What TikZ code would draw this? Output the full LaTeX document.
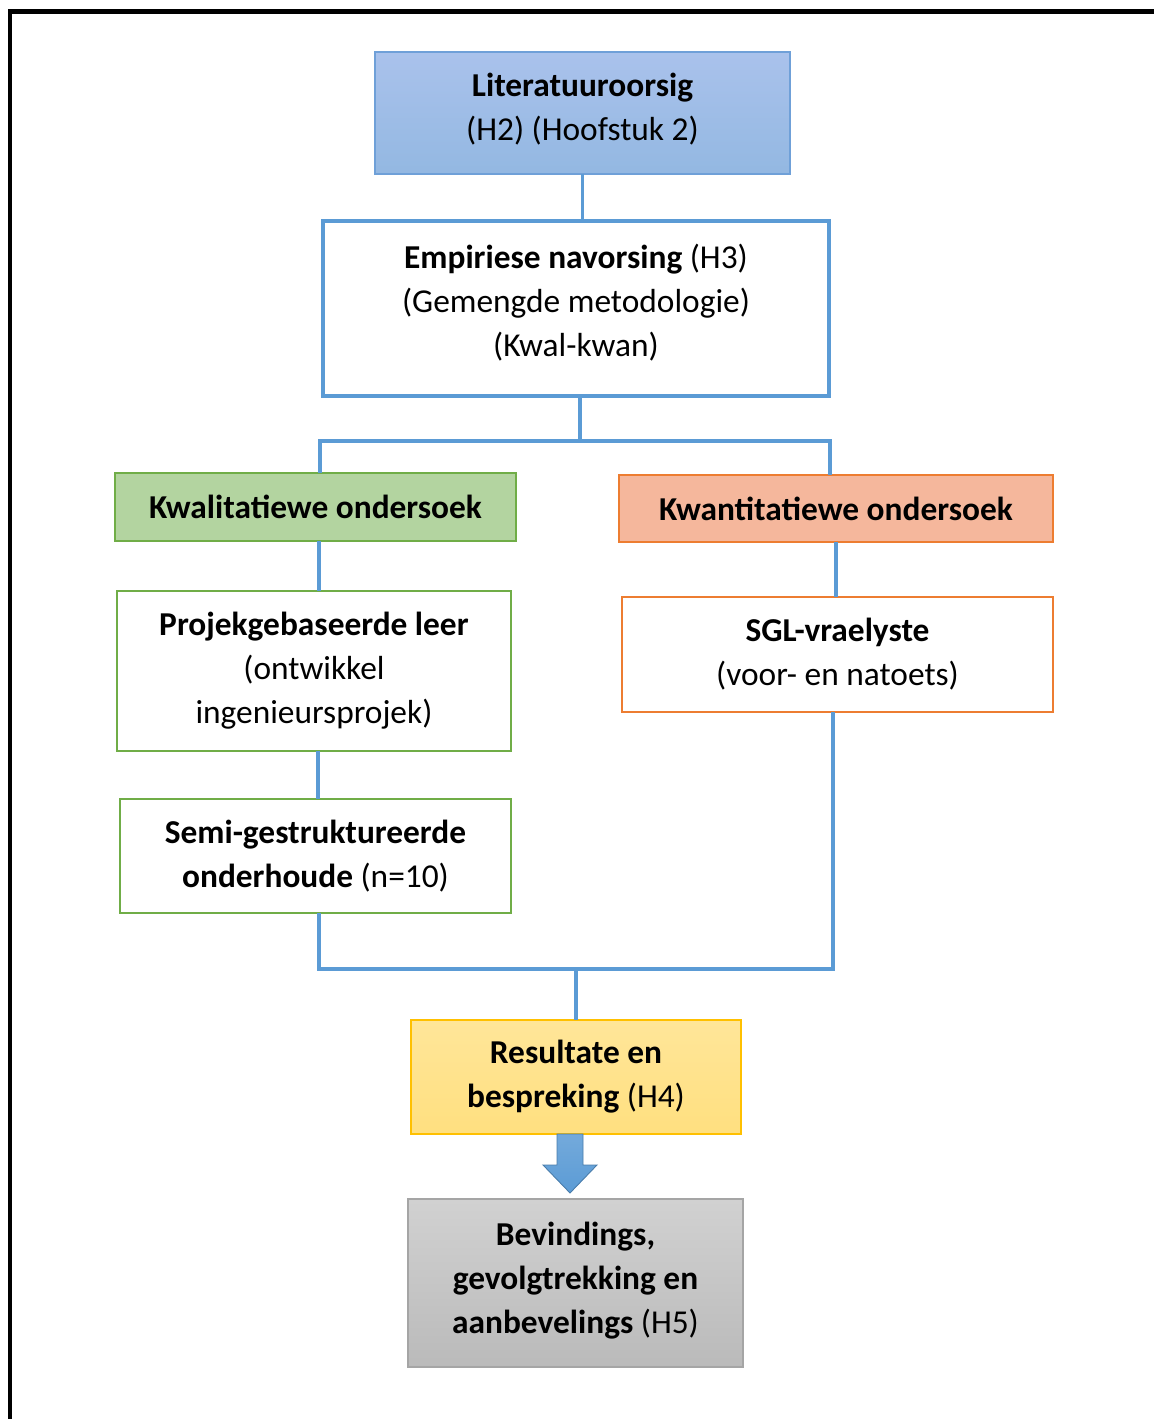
\documentclass[tikz,border=0pt]{standalone}
\usepackage{fontspec}
\setmainfont{Carlito}
\usepackage{tikz}

\definecolor{linkblue}{HTML}{5B9BD5}
\definecolor{litblue}{HTML}{6FA0D8}
\definecolor{kwalgreen}{HTML}{70AD47}
\definecolor{kwalfill}{HTML}{B3D4A0}
\definecolor{kwanorange}{HTML}{ED7D31}
\definecolor{kwanfill}{HTML}{F5B79C}
\definecolor{resyellow}{HTML}{FFC000}
\definecolor{bevgray}{HTML}{A5A5A5}

\begin{document}
\begin{tikzpicture}[x=0.02cm, y=-0.02cm,
    box/.style={rectangle, inner sep=0pt, outer sep=0pt, align=center,
      font=\fontsize{19}{25}\selectfont},
    link/.style={line width=2.3pt, linkblue}]
    \useasboundingbox (0,0) rectangle (1153,1419);
    % frame
    \draw[line width=0.1cm, black] (10,1425) -- (10,12) -- (1160,12);

    \node[box, draw=litblue, line width=1pt, top color=blue!10!litblue!55, bottom color=litblue!75,
      minimum width=8.3cm, minimum height=2.44cm] (lit) at (582.5,113)
      {\textbf{Literatuuroorsig}\\(H2) (Hoofstuk 2)\\[-17.6pt]\mbox{}};
    \node[box, draw=linkblue, line width=2.3pt, fill=white,
      minimum width=10.12cm, minimum height=3.5cm] (emp) at (576,308.5)
      {\textbf{Empiriese navorsing} (H3)\\(Gemengde metodologie)\\(Kwal-kwan)\\[-15.4pt]\mbox{}};

    \node[box, draw=kwalgreen, line width=0.8pt, fill=kwalfill,
      minimum width=8.02cm, minimum height=1.36cm] (kwal) at (315.5,507)
      {\textbf{Kwalitatiewe ondersoek}};
    \node[box, draw=kwanorange, line width=0.8pt, fill=kwanfill,
      minimum width=8.68cm, minimum height=1.34cm] (kwan) at (836,508.5)
      {\textbf{Kwantitatiewe ondersoek}};

    \node[box, draw=kwalgreen, line width=1.5pt, fill=white,
      minimum width=7.88cm, minimum height=3.2cm] (proj) at (314,671)
      {\textbf{Projekgebaseerde leer}\\(ontwikkel\\ingenieursprojek)};
    \node[box, draw=kwalgreen, line width=1.5pt, fill=white,
      minimum width=7.82cm, minimum height=2.28cm] (semi) at (315.5,856)
      {\textbf{Semi-gestruktureerde}\\\textbf{onderhoude} (n=10)};
    \node[box, draw=kwanorange, line width=1.5pt, fill=white,
      minimum width=8.62cm, minimum height=2.3cm] (sgl) at (837.5,654.5)
      {\textbf{SGL-vraelyste}\\(voor- en natoets)};

    \node[box, draw=resyellow, line width=0.8pt, top color=resyellow!40, bottom color=resyellow!50,
      minimum width=6.6cm, minimum height=2.28cm] (res) at (576,1077)
      {\textbf{Resultate en}\\\textbf{bespreking} (H4)};
    \node[box, draw=bevgray, line width=0.8pt, top color=black!18, bottom color=black!27,
      minimum width=6.7cm, minimum height=3.36cm] (bev) at (575.5,1283)
      {\textbf{Bevindings,}\\\textbf{gevolgtrekking en}\\\textbf{aanbevelings} (H5)\\[-18.8pt]\mbox{}};

    % connectors
    \draw[link, line width=1.6pt] (lit.south) -- (lit.south |- emp.north);
    \coordinate (split) at (580,441);
    \draw[link] (split |- emp.south) -- (split);
    \draw[link] (split) -| ([xshift=0.09cm]kwal.north);
    \draw[link] (split) -| ([xshift=-0.12cm]kwan.north);
    \draw[link] ([xshift=0.07cm]kwal.south) -- ([xshift=0.07cm]kwal.south |- proj.north);
    \draw[link] ([xshift=0.08cm]proj.south) -- ([xshift=0.08cm]proj.south |- semi.north);
    \draw[link] (kwan.south) -- (kwan.south |- sgl.north);
    \coordinate (join) at (576,969);
    \draw[link] ([xshift=0.07cm]semi.south) |- (join);
    \draw[link] (join) -| ([xshift=-0.09cm]sgl.south);
    \draw[link] (join) -- (res.north);

    % block arrow
    \draw[linkblue!80!black, line width=0.5pt, top color=linkblue!85, bottom color=linkblue]
      ([xshift=-0.12cm]res.south) ++(-13,0) -- ++(0,31) -- ++(-14,0) -- ++(27,28)
      -- ++(27,-28) -- ++(-14,0) -- ++(0,-31) -- cycle;
\end{tikzpicture}
\end{document}
